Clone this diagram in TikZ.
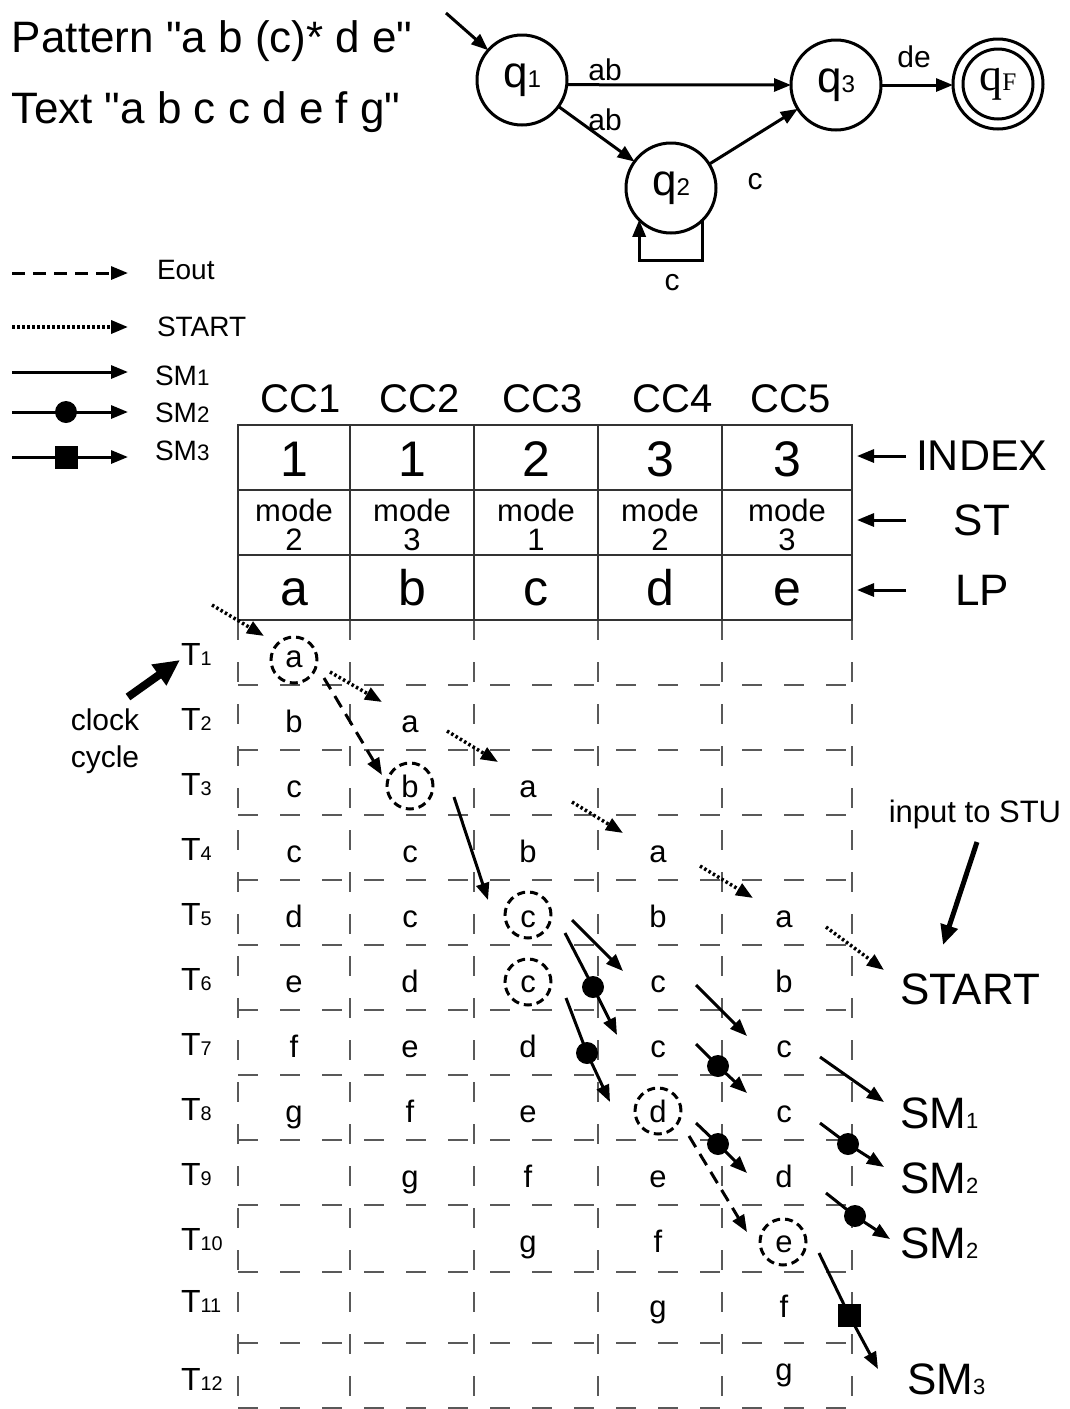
\documentclass[tikz,border=0pt]{standalone}
\usepackage{fontspec}
\setmainfont{Liberation Sans}[Ligatures=TeXOff]
\newfontfamily\qfont{Liberation Serif}
\usetikzlibrary{arrows.meta, calc}

\newcommand{\lo}[2][0.62]{\scalebox{#1}{#2}}
\newcommand{\fsz}[1]{\fontsize{#1}{#1}\selectfont}

\begin{document}
\begin{tikzpicture}[x=1pt, y=-1pt, >={Triangle[length=17pt, width=13pt]},
  every node/.style={inner sep=0pt, outer sep=0pt},
  title/.style={font=\fsz{44}, anchor=base west},
  stnode/.style={circle, draw, line width=3pt, minimum size=90pt, font=\fsz{44}},
  trans/.style={->, line width=3pt},
  lbl/.style={font=\fsz{30}},
  gridline/.style={black!65, line width=1.6pt, dash pattern=on 20pt off 22pt},
  tabline/.style={black!80, line width=1.6pt},
  ring/.style={circle, draw, line width=3pt, dash pattern=on 8pt off 5pt, minimum size=46pt},
  cellch/.style={font=\fsz{31}, anchor=base},
  startline/.style={->, line width=3.5pt, dash pattern=on 2.5pt off 2.5pt},
  eout/.style={->, line width=3pt, dash pattern=on 13pt off 8pt},
  smline/.style={->, line width=3pt},
  sqmark/.style={fill, minimum size=23pt},
  side/.style={font=\fsz{44}, anchor=west},
  legend/.style={font=\fsz{28}, anchor=west}]

  \useasboundingbox (0,0) rectangle (1069,1409);

  % pattern and text
  \node[title] (pattern) at (12,52) {Pattern "a b (c)* d e"};
  \node[title] (txtline) at (12,123) {Text "a b c c d e f g"};

  % automaton
  \node[stnode] (q1) at (522,80) {q\lo[0.55]{1}};
  \node[stnode] (q2) at (671,188) {q\lo[0.55]{2}};
  \node[stnode] (q3) at (836,85) {q\lo[0.55]{3}};
  \node[stnode, font=\qfont\fsz{46}] (qf) at (998,84) {q\lo[0.55]{F}};
  \draw[line width=3pt] (qf.center) circle (35pt);
  \coordinate (init) at (446,13);
  \coordinate (loopb) at (671,260);
  \draw[trans] (init) -- (q1);
  \draw[trans] (q1.-6) -- (q3.west);
  \draw[trans] (q1) -- (q2);
  \draw[trans] (q2) -- (q3);
  \draw[trans] (q3.east) -- (q3.east -| qf.west);
  \draw[trans] (q2.-45) |- (loopb) -| (q2.-135);
  \node[lbl] (ab1) at (605,70) {ab};
  \node[lbl] (ab2) at (605,120) {ab};
  \node[lbl] (c23) at (755,182) {c};
  \node[lbl] (c22) at (672,283) {c};
  \node[lbl] (de) at (914,57) {de};

  % legend
  \draw[eout] (12,273) -- (128,273);
  \node[legend] (lgeout) at (157,270) {Eout};
  \draw[startline] (12,327) -- (128,327);
  \node[legend] (lgstart) at (157,327) {START};
  \draw[smline] (12,372) -- (128,372);
  \node[legend] (lgsm1) at (155,376) {SM\lo[0.8]{1}};
  \draw[smline] (12,412) -- (128,412);
  \fill (66,412) circle (11pt);
  \node[legend] (lgsm2) at (155,413) {SM\lo[0.8]{2}};
  \draw[smline] (12,457) -- (128,457);
  \node[sqmark] (lgsq) at (66,457) {};
  \node[legend] (lgsm3) at (155,451) {SM\lo[0.8]{3}};

  % dashed grid of cycles
  \foreach \x in {238,350,474,598,722,852}
    \draw[gridline] (\x,620) -- (\x,1408);
  \foreach \y in {685,750,...,1205,1272,1343,1408}
    \draw[gridline] (238,\y) -- (852,\y);

  % table
  \draw[tabline] (238,425) rectangle (852,620);
  \foreach \y in {490,555}
    \draw[tabline] (238,\y) -- (852,\y);
  \foreach \x in {350,474,598,722}
    \draw[tabline] (\x,425) -- (\x,620);
  \foreach \c/\x in {1/301,2/420,3/543,4/673,5/791}
    \node[font=\fsz{40}, anchor=base] (cc\c) at (\x,412) {CC\c};
  \foreach \c/\x/\n/\m/\l in {1/294/1/2/a, 2/412/1/3/b, 3/536/2/1/c, 4/660/3/2/d, 5/787/3/3/e}{
    \node[font=\fsz{50}] (idx\c) at (\x,459) {\n};
    \node[font=\fsz{31}, align=center] (mode\c) at (\x,525) {mode\\[-2pt]\m};
    \node[font=\fsz{50}, anchor=base] (lp\c) at (\x,605) {\l};
  }

  % row labels of the table
  \coordinate (tabR) at (857,0);
  \coordinate (tailR) at (906,0);
  \node[side, font=\fsz{43}] (index) at (916,456) {INDEX};
  \node[font=\fsz{44}] (st) at (982,520) {ST};
  \node[font=\fsz{44}] (lp) at (982,590) {LP};
  \foreach \n in {index,st,lp}
    \draw[->, line width=3pt] (tailR |- \n) -- (tabR |- \n);

  % clock cycles
  \foreach \r in {1,...,12}{
    \pgfmathsetmacro\ty{ifthenelse(\r<11, 600+65*\r, ifthenelse(\r<12, 1312, 1390))}
    \node[font=\fsz{32}, anchor=base west] (t\r) at (181,\ty) {T\lo{\r}};
  }
  \node[font=\fsz{30}, anchor=base] (clock) at (105,730) {clock};
  \node[font=\fsz{30}, anchor=base] (cycle) at (105,767) {cycle};
  \coordinate (clkA) at (128,697);
  \coordinate (clkB) at (180,660);
  \draw[-{Triangle[length=26pt, width=24pt]}, line width=8pt] (clkA) -- (clkB);

  % characters moving through the cells
  \foreach \c/\r/\l in {1/1/a,1/2/b,1/3/c,1/4/c,1/5/d,1/6/e,1/7/f,1/8/g,
      2/2/a,2/3/b,2/4/c,2/5/c,2/6/d,2/7/e,2/8/f,2/9/g,
      3/3/a,3/4/b,3/5/c,3/6/c,3/7/d,3/8/e,3/9/f,3/10/g,
      4/4/a,4/5/b,4/6/c,4/7/c,4/8/d,4/9/e,4/10/f,4/11/g,
      5/5/a,5/6/b,5/7/c,5/8/c,5/9/d,5/10/e,5/11/f,5/12/g}{
    \pgfmathsetmacro\cx{{294,410,528,658,784}[\c-1]}
    \pgfmathsetmacro\cy{ifthenelse(\r<11, 602+65*\r, ifthenelse(\r<12, 1317, 1380))}
    \node[cellch] (l\c-\r) at (\cx,\cy) {\l};
  }
  \foreach \n/\x/\y in {a/294/660, b/410/786, c/528/915, cc/528/982, d/658/1111, e/783/1242}
    \node[ring] (r\n) at (\x,\y) {};

  % START hand-off
  \foreach \i/\ax/\ay/\bx/\by in {1/212/605/264/636, 2/330/672/382/702,
      3/447/731/498/762, 4/572/802/623/833, 5/700/866/753/898, 6/826/927/884/970}{
    \coordinate (sa\i) at (\ax,\ay);
    \coordinate (sb\i) at (\bx,\by);
    \draw[startline] (sa\i) -- (sb\i);
  }
  % Eout
  \foreach \i/\ax/\ay/\bx/\by in {1/324/678/382/775, 2/689/1136/747/1232}{
    \coordinate (ea\i) at (\ax,\ay);
    \coordinate (eb\i) at (\bx,\by);
    \draw[eout] (ea\i) -- (eb\i);
  }
  % SM1
  \foreach \i/\ax/\ay/\bx/\by in {1/454/797/488/900, 2/572/920/623/971,
      3/696/985/747/1036, 4/820/1057/884/1102}{
    \coordinate (ma\i) at (\ax,\ay);
    \coordinate (mb\i) at (\bx,\by);
    \draw[smline] (ma\i) -- (mb\i);
  }
  % SM2
  \foreach \i/\ax/\ay/\mx/\my/\bx/\by in {1/565/933/593/987/617/1035,
      2/566/998/587/1053/610/1102, 3/696/1044/718/1066/747/1093,
      4/696/1123/718/1144/747/1173, 5/820/1123/848/1144/884/1167,
      6/826/1193/855/1216/890/1239}{
    \coordinate (da\i) at (\ax,\ay);
    \coordinate (dm\i) at (\mx,\my);
    \coordinate (db\i) at (\bx,\by);
    \draw[smline] (da\i) -- (dm\i) -- (db\i);
    \fill (dm\i) circle (11pt);
  }
  % SM3
  \coordinate (qa) at (819,1253);
  \coordinate (qm) at (849,1315);
  \coordinate (qb) at (878,1369);
  \draw[smline] (qa) -- (qm) -- (qb);
  \node[sqmark] (sq) at (qm) {};

  % outputs on the right
  \node[font=\fsz{31}, anchor=base] (stu) at (975,822) {input to STU};
  \coordinate (stuA) at (977,842);
  \coordinate (stuB) at (943,945);
  \draw[-{Triangle[length=20pt, width=17pt]}, line width=5pt] (stuA) -- (stuB);
  \node[side] (startlbl) at (900,989) {START};
  \node[side] (sm1) at (900,1113) {SM\lo[0.5]{1}};
  \node[side] (sm2a) at (900,1178) {SM\lo[0.5]{2}};
  \node[side] (sm2b) at (900,1243) {SM\lo[0.5]{2}};
  \node[side] (sm3) at (907,1379) {SM\lo[0.5]{3}};
\end{tikzpicture}
\end{document}
